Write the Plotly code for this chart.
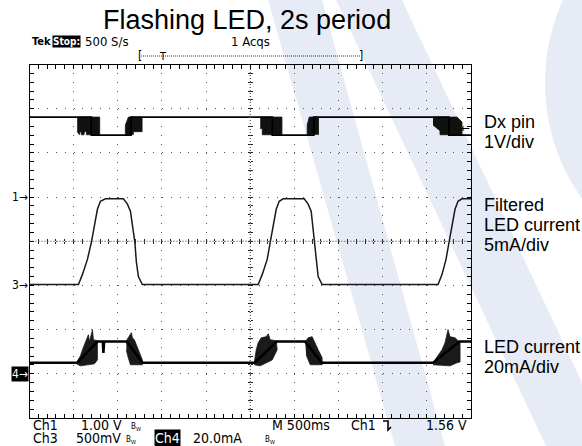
import plotly.graph_objects as go

W, H = 582, 446

# ---------------- data ----------------
# time axis: 500 ms/div, 10 div -> 0..5 s
# Ch1 "Dx pin" (V), 1 V/div
ch1_t = [0.0, 0.70, 1.15, 2.75, 3.22, 4.75, 5.0]
ch1_v = [1.81, 1.40, 1.81, 1.40, 1.81, 1.40, 1.40]
# dense switching bursts on Ch1 (outline of the black blocks)
ch1_burst_t = [
    [0.540, 0.795, 0.795, 0.645, 0.645, 0.622, 0.617, 0.588, 0.583, 0.571, 0.566, 0.540],
    [1.086, 1.086, 1.120, 1.275, 1.275, 1.176, 1.176],
    [2.613, 2.859, 2.859, 2.636, 2.636, 2.613],
    [3.145, 3.145, 3.168, 3.273, 3.273],
    [4.570, 4.842, 4.898, 4.898, 4.649, 4.649, 4.570],
]
ch1_burst_v = [
    [1.81, 1.81, 1.41, 1.41, 1.48, 1.48, 1.41, 1.41, 1.48, 1.48, 1.41, 1.48],
    [1.41, 1.63, 1.81, 1.81, 1.48, 1.48, 1.41],
    [1.81, 1.81, 1.41, 1.41, 1.55, 1.55],
    [1.41, 1.63, 1.81, 1.81, 1.41],
    [1.81, 1.81, 1.70, 1.41, 1.41, 1.50, 1.63],
]

# Ch3 "Filtered LED current" (V), 500 mV/div
ch3_t = [0.0, 0.554, 0.600, 0.656, 0.701, 0.724, 0.769, 0.803, 0.860,
         1.063, 1.109, 1.143, 1.176, 1.193, 1.210, 1.233, 1.278,
         2.590, 2.636, 2.692, 2.726, 2.749, 2.794, 2.828, 2.873,
         3.111, 3.156, 3.190, 3.213, 3.230, 3.247, 3.269, 3.314,
         4.627, 4.672, 4.717, 4.751, 4.774, 4.819, 4.853, 4.898, 5.0]
ch3_v = [0.01, 0.01, 0.125, 0.295, 0.488, 0.612, 0.862, 0.952, 0.98,
         0.98, 0.92, 0.84, 0.61, 0.49, 0.27, 0.10, 0.01,
         0.01, 0.125, 0.295, 0.488, 0.612, 0.862, 0.952, 0.98,
         0.98, 0.92, 0.84, 0.61, 0.49, 0.27, 0.10, 0.01,
         0.01, 0.125, 0.295, 0.488, 0.612, 0.862, 0.952, 0.98, 0.98]

# Ch4 "LED current" (mA), 20 mA/div
ch4_t = [0.0, 0.54, 0.77, 0.83, 0.837, 0.845, 1.10, 1.28, 2.55, 2.80, 3.12, 3.31, 4.57, 4.87, 5.0]
ch4_v = [5.0, 5.0, 14.6, 14.6, 9.5, 14.6, 14.6, 5.0, 5.0, 14.6, 14.6, 5.0, 5.0, 14.6, 14.6]
ch4_burst_t = [
    [0.532, 0.577, 0.600, 0.645, 0.667, 0.679, 0.701, 0.713, 0.724, 0.769, 0.769, 0.735, 0.577, 0.532],
    [1.097, 1.131, 1.154, 1.165, 1.188, 1.210, 1.244, 1.278, 1.278, 1.143, 1.109, 1.097],
    [2.545, 2.568, 2.590, 2.624, 2.681, 2.704, 2.726, 2.794, 2.805, 2.749, 2.613, 2.545],
    [3.122, 3.156, 3.201, 3.224, 3.269, 3.314, 3.314, 3.179, 3.133],
    [4.570, 4.627, 4.672, 4.706, 4.740, 4.762, 4.819, 4.853, 4.876, 4.876, 4.842, 4.762, 4.570],
]
ch4_burst_v = [
    [5.0, 8.2, 10.9, 15.4, 17.7, 14.5, 18.1, 20.0, 15.4, 15.0, 6.3, 4.5, 3.6, 4.5],
    [15.0, 17.2, 18.6, 16.3, 15.4, 13.2, 10.0, 6.3, 4.1, 4.1, 8.6, 10.9],
    [5.0, 10.9, 14.1, 16.3, 16.8, 18.1, 15.4, 15.0, 10.9, 6.3, 3.6, 4.1],
    [14.5, 16.3, 16.8, 14.5, 10.9, 7.3, 4.1, 4.1, 8.6],
    [5.0, 8.2, 10.9, 14.1, 20.0, 16.8, 16.3, 15.0, 14.5, 5.4, 5.0, 3.6, 4.1],
]
trigger_level = 1.56

# scope settings (ranges per channel: 8 div tall)
ch1_range = [-5, 3]      # 1 V/div, ground 5 div from bottom
ch3_range = [-1.5, 2.5]  # 0.5 V/div, ground 3 div from bottom
ch4_range = [-20, 140]   # 20 mA/div, ground 1 div from bottom
t_range = [0, 5]

# ---------------- layout helpers ----------------
BOX_L, BOX_R, BOX_T, BOX_B = 29.5, 471.0, 64.5, 418.0


def px(x):
    return x / W


def py(y):
    return 1 - y / H


xdom = [px(BOX_L), px(BOX_R)]
ydom = [py(BOX_B), py(BOX_T)]
xc = (xdom[0] + xdom[1]) / 2
yc = (ydom[0] + ydom[1]) / 2

fig = go.Figure()

# Ch3 filtered
fig.add_trace(go.Scatter(x=ch3_t, y=ch3_v, yaxis="y2", mode="lines",
                         line=dict(color="#1a1a1a", width=1.5), hoverinfo="skip"))
# Ch1 bursts + line
for bt, bv in zip(ch1_burst_t, ch1_burst_v):
    fig.add_trace(go.Scatter(x=bt, y=bv, mode="lines", fill="toself", fillcolor="#111",
                             line=dict(color="#111", width=0.8), hoverinfo="skip"))
fig.add_trace(go.Scatter(x=ch1_t, y=ch1_v, mode="lines", line_shape="hv",
                         line=dict(color="black", width=1.8), hoverinfo="skip"))
# Ch4 bursts + line
for bt, bv in zip(ch4_burst_t, ch4_burst_v):
    fig.add_trace(go.Scatter(x=bt, y=bv, yaxis="y3", mode="lines", fill="toself", fillcolor="#1a1a1a",
                             line=dict(color="#1a1a1a", width=0.8), hoverinfo="skip"))
fig.add_trace(go.Scatter(x=ch4_t, y=ch4_v, yaxis="y3", mode="lines",
                         line=dict(color="black", width=2.5), hoverinfo="skip"))
# dummies so that the centre cross-hair tick axes get drawn
for xa, ya in [("x2", "y"), ("x3", "y"), ("x", "y4"), ("x", "y5")]:
    fig.add_trace(go.Scatter(x=[None], y=[None], xaxis=xa, yaxis=ya, mode="lines",
                             hoverinfo="skip"))

grid = dict(showgrid=True, gridcolor="#555", gridwidth=1, zeroline=False,
            showline=True, linecolor="black", linewidth=1.3, mirror="allticks",
            ticks="inside", ticklen=4, tickcolor="black", tickwidth=1,
            showticklabels=False, fixedrange=True)

center_ax = dict(anchor="free", showgrid=False, zeroline=False, showline=False,
                 showticklabels=False, ticklen=2, tickcolor="#222", tickwidth=1,
                 fixedrange=True)

fig.update_layout(
    width=W, height=H, margin=dict(l=0, r=0, t=0, b=0),
    paper_bgcolor="white", plot_bgcolor="rgba(0,0,0,0)", showlegend=False,
    xaxis=dict(domain=xdom, range=t_range, dtick=0.5, tick0=0,
               griddash="1px,7.83px",
               minor=dict(dtick=0.1, ticks="inside", ticklen=3, tickcolor="black", showgrid=False),
               **grid),
    yaxis=dict(domain=ydom, range=ch1_range, dtick=1, tick0=0, anchor="x",
               griddash="1px,7.83px",
               minor=dict(dtick=0.2, ticks="inside", ticklen=3, tickcolor="black", showgrid=False),
               **grid),
    yaxis2=dict(overlaying="y", range=ch3_range, visible=False, fixedrange=True),
    yaxis3=dict(overlaying="y", range=ch4_range, visible=False, fixedrange=True),
    xaxis2=dict(overlaying="x", range=t_range, position=yc, dtick=0.1, ticks="outside", **center_ax),
    xaxis3=dict(overlaying="x", range=t_range, position=yc, dtick=0.1, ticks="inside", **center_ax),
    yaxis4=dict(overlaying="y", range=ch1_range, position=xc, dtick=0.2, ticks="outside", **center_ax),
    yaxis5=dict(overlaying="y", range=ch1_range, position=xc, dtick=0.2, ticks="inside", **center_ax),
)

shapes = []
# watermark of the slide template
wm_col = "#e7ebf5"


def poly(pts):
    return "M " + " L ".join(f"{px(x):.4f},{py(y):.4f}" for x, y in pts) + " Z"


shapes.append(dict(type="path", xref="paper", yref="paper", layer="below", line_width=0,
                   fillcolor=wm_col, path=poly([(336, 0), (402, 0), (612, 446), (546, 446)])))
shapes.append(dict(type="path", xref="paper", yref="paper", layer="below", line_width=0,
                   fillcolor=wm_col, path=poly([(268, 0), (322, 0), (445, 446), (395, 446)])))
shapes.append(dict(type="circle", xref="paper", yref="paper", layer="below", line_width=0,
                   fillcolor=wm_col, x0=px(545), x1=px(945), y0=py(283), y1=py(-117)))
# centre cross-hair dotted lines
shapes.append(dict(type="line", xref="paper", yref="paper", x0=xdom[0], x1=xdom[1], y0=yc, y1=yc,
                   line=dict(color="#333", width=1, dash="1px,2px")))
shapes.append(dict(type="line", xref="paper", yref="paper", x0=xc, x1=xc, y0=ydom[0], y1=ydom[1],
                   line=dict(color="#333", width=1, dash="1px,2px")))
# record bar
shapes.append(dict(type="line", xref="paper", yref="paper", x0=px(141), x1=px(360), y0=py(56), y1=py(56),
                   line=dict(color="#333", width=1, dash="1px,1px")))
# trigger slope symbol
shapes.append(dict(type="path", xref="paper", yref="paper",
                   path=f"M {px(383):.4f},{py(421):.4f} L {px(388):.4f},{py(421):.4f} "
                        f"L {px(388):.4f},{py(430):.4f} L {px(391):.4f},{py(427):.4f}",
                   line=dict(color="black", width=1.6)))
fig.update_layout(shapes=shapes)

ann = []
SCOPE = "DejaVu Sans Condensed, Liberation Sans Narrow, DejaVu Sans"
SLIDE = "Liberation Sans, Arial"


def txt(text, x, y, xanchor="left", size=12, family=SCOPE, color="black", bg=None,
        xref="paper", yref="paper", ypx=True):
    d = dict(text=text, x=px(x) if xref == "paper" else x,
             y=py(y) if (yref == "paper" and ypx) else y,
             xref=xref, yref=yref, xanchor=xanchor, yanchor="middle", showarrow=False,
             font=dict(family=family, size=size, color=color), borderpad=0)
    if bg:
        d["bgcolor"] = bg
    ann.append(d)


# title
txt("Flashing LED, 2s period", 247, 20, xanchor="center", size=27, family=SLIDE)
# top status line
txt("<b>Tek</b>", 31, 41, size=11)
txt("<b>Stop:</b>", 52, 41, size=10, color="white", bg="black")
txt("500 S/s", 84, 41, size=13)
txt("1 Acqs", 230, 41, size=13)
txt("[", 137, 56, size=12)
txt("]", 358, 56, size=12)
txt("T", 158, 56, size=11)
# bottom status lines
txt("Ch1", 32, 425, size=14)
txt("1.00 V", 80, 425, size=14)
txt("B<sub>W</sub>", 130, 427, size=8)
txt("M 500ms", 271, 425, size=14)
txt("Ch1", 350, 425, size=14)
txt("1.56 V", 468, 425, xanchor="right", size=14)
txt("Ch3", 32, 438, size=14)
txt("500mV", 75, 438, size=14)
txt("B<sub>W</sub>", 125, 440, size=8)
txt("Ch4", 154, 438, size=14, color="white", bg="black")
txt("20.0mA", 192, 438, size=14)
txt("B<sub>W</sub>", 264, 440, size=8)
# channel ground markers
txt("1→", 29, 0, xanchor="right", size=12, yref="y")
txt("3→", 29, 0, xanchor="right", size=12, yref="y2")
txt("4→", 29, 0, xanchor="right", size=12, yref="y3", color="white", bg="black")
# trigger level marker
txt("←", 471, trigger_level, xanchor="right", size=12, yref="y")
# right hand labels
txt("Dx pin", 483, 122, size=18, family=SLIDE)
txt("1V/div", 483, 142, size=18, family=SLIDE)
txt("Filtered", 483, 205, size=18, family=SLIDE)
txt("LED current", 483, 225, size=18, family=SLIDE)
txt("5mA/div", 483, 244.5, size=18, family=SLIDE)
txt("LED current", 483, 346.5, size=18, family=SLIDE)
txt("20mA/div", 483, 366.5, size=18, family=SLIDE)

fig.update_layout(annotations=ann)
fig.write_html("out.html", config={"displayModeBar": False},
               post_script="document.body.style.margin='0px';")
